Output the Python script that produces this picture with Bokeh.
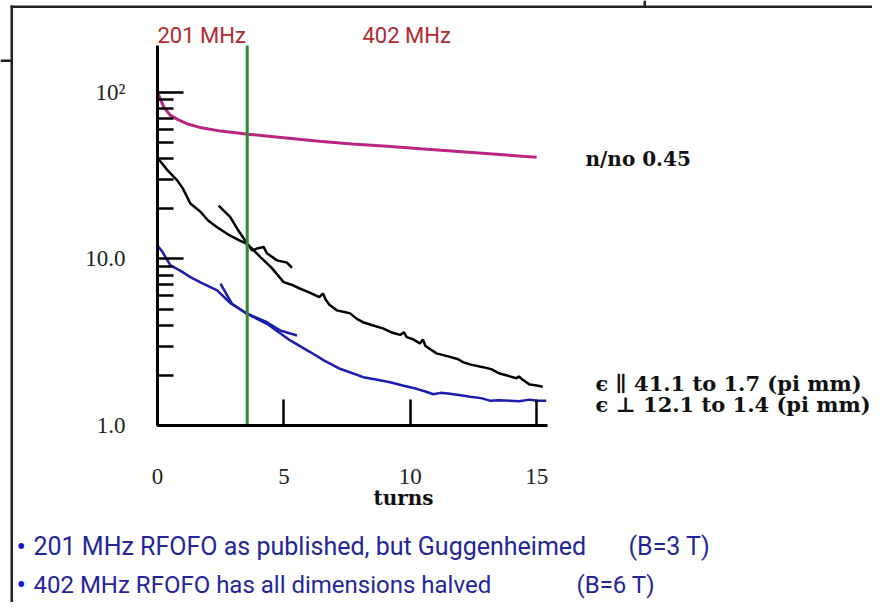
import math
from bokeh.plotting import figure
from bokeh.models import Range1d, FixedTicker, Label, BoxAnnotation
from bokeh.embed import file_html
from bokeh.resources import INLINE

# ---- data ----
x_ticks = [0, 5, 10, 15]
y_ticks = [1, 10, 100]
y_tick_labels = {1: "1.0", 10: "10.0", 100: "10\u00b2"}

# n/n0 transmission (magenta)
trans_t = [0, 0.26, 0.5, 0.79, 1.2, 1.74, 2.5, 3.59, 5.0, 6.4, 7.7, 9.08, 10.4, 11.76, 13.4, 15.0]
trans_v = [100, 81, 73, 68.8, 64.5, 61.2, 58.5, 56, 53.3, 50.8, 49, 47.4, 45.8, 44.3, 42.5, 40.7]

# longitudinal emittance, long run (black)
epar_t = [0, 0.4, 0.78, 1.0, 1.3, 1.7, 2.0, 2.36, 2.8, 3.2, 3.54, 3.8, 4.07, 4.5, 4.99,
          5.3, 5.65, 6.0, 6.4, 6.55, 6.65, 6.8, 7.09, 7.4, 7.62, 7.9, 8.13, 8.5, 8.92, 9.3,
          9.6, 9.75, 9.86, 10.1, 10.38, 10.5, 10.6, 11.04, 11.5, 11.9, 12.08, 12.4, 12.88,
          13.2, 13.54, 13.9, 14.2, 14.3, 14.45, 14.73, 15.0, 15.24]
epar_v = [40.5, 34, 29.6, 26.5, 21.5, 19.2, 17.0, 15.5, 14.0, 13.0, 12.3, 11.3, 10.25, 8.9, 7.26,
          7.0, 6.62, 6.3, 5.9, 6.2, 5.7, 5.3, 4.91, 4.8, 4.71, 4.35, 4.17, 4.0, 3.83, 3.6,
          3.5, 3.62, 3.39, 3.3, 3.11, 3.28, 3.0, 2.71, 2.6, 2.5, 2.40, 2.32, 2.24,
          2.18, 2.05, 1.98, 1.92, 1.97, 1.88, 1.76, 1.74, 1.71]

# longitudinal emittance, short run (black)
epar2_t = [2.42, 2.88, 3.2, 3.54, 3.74, 3.99, 4.2, 4.33, 4.73, 5.12, 5.32]
epar2_v = [20.9, 17.8, 14.8, 12.4, 11.25, 11.6, 11.8, 10.8, 9.8, 9.5, 8.85]

# transverse emittance (blue)
eperp_t = [0, 0.2, 0.51, 0.9, 1.3, 1.8, 2.36, 2.9, 3.54, 4.33, 5.25, 6.04, 6.6, 7.22, 8.14,
           8.7, 9.2, 9.7, 10.25, 10.6, 10.91, 11.2, 11.57, 12.0, 12.36, 12.8, 13.15, 13.5,
           13.94, 14.3, 14.73, 15.0, 15.38]
eperp_v = [12.05, 11.0, 9.14, 8.5, 7.78, 7.1, 6.47, 5.4, 4.69, 4.08, 3.24, 2.76, 2.45, 2.19, 1.95,
           1.88, 1.82, 1.74, 1.66, 1.6, 1.54, 1.57, 1.55, 1.52, 1.49, 1.46, 1.41, 1.42,
           1.41, 1.40, 1.43, 1.41, 1.41]

# transverse emittance, short run (blue)
eperp2_t = [2.49, 2.95, 3.54, 4.33, 4.86, 5.52]
eperp2_v = [7.1, 5.38, 4.69, 4.17, 3.72, 3.47]

# frequency change marker
switch_turn = 3.55

# ---- geometry: the frame is the whole canvas, axes are pinned inside it ----
W, H = 872, 602
AX_L, AX_R, AX_T, AX_B = 157, 547, 45, 425   # plot-area edges in pixels
XMAX, YMIN, YMAX = 15.43, 1.0, 191.0
PX_PER_TURN = (AX_R - AX_L) / XMAX
PX_PER_DEC = (AX_B - AX_T) / math.log10(YMAX / YMIN)

def dx(px):
    return (px - AX_L) / PX_PER_TURN

def dy(py):
    return YMIN * 10 ** ((AX_B - py) / PX_PER_DEC)

p = figure(width=W, height=H, x_range=Range1d(dx(0), dx(W)), y_range=Range1d(dy(H), dy(0)),
           y_axis_type="log", output_backend="svg", toolbar_location=None,
           min_border=0)
p.title.visible = False
p.outline_line_color = None
p.grid.visible = False
p.background_fill_color = "white"
p.border_fill_color = "white"

xa = p.xaxis[0]
xa.ticker = FixedTicker(ticks=x_ticks)
xa.fixed_location = YMIN
xa.bounds = (0, XMAX)
ya = p.yaxis[0]
ya.ticker = FixedTicker(ticks=y_ticks,
                        minor_ticks=[m * d for d in (1, 10) for m in range(2, 10)])
ya.major_label_overrides = y_tick_labels
ya.fixed_location = 0
ya.bounds = (YMIN, YMAX)

for ax in (xa, ya):
    ax.axis_line_color = "black"
    ax.axis_line_width = 3
    ax.major_tick_in = 26
    ax.major_tick_out = 0
    ax.major_tick_line_width = 2.5
    ax.major_tick_line_color = "black"
    ax.major_label_text_font = "Liberation Serif"
    ax.major_label_text_font_size = "23px"
    ax.major_label_text_color = "#222222"
xa.minor_tick_line_color = None
xa.major_label_standoff = 43
ya.minor_tick_in = 16
ya.minor_tick_out = 0
ya.minor_tick_line_width = 2.5
ya.minor_tick_line_color = "black"
ya.major_label_standoff = 32

p.line(trans_t, trans_v, line_color="#bb2480", line_width=3)
p.line(epar_t, epar_v, line_color="black", line_width=2.5)
p.line(epar2_t, epar2_v, line_color="black", line_width=2.5)
p.line(eperp_t, eperp_v, line_color="#1c1cb0", line_width=2.5)
p.line(eperp2_t, eperp2_v, line_color="#1c1cb0", line_width=2.5)

p.segment(x0=[switch_turn], y0=[YMIN], x1=[switch_turn], y1=[YMAX],
          line_color="#2e8b2e", line_width=3)

# ---- slide frame lines ----
frame_col = "#222222"
for l, r, t, b in [(10, 12.5, 5, H), (10, W, 5, 7.5), (0, 11, 59, 61.5), (643, 645.5, 0, 6)]:
    p.add_layout(BoxAnnotation(left=dx(l), right=dx(r), top=dy(t), bottom=dy(b),
                               fill_color=frame_col, fill_alpha=1, line_color=None))

def lab(x, y, text, font, size, color, style="normal", align="left"):
    p.add_layout(Label(x=dx(x), y=dy(y), text=text,
                       text_font=font, text_font_size=size, text_color=color,
                       text_font_style=style, text_align=align, text_baseline="middle"))

lab(157, 35, "201 MHz", "Roboto", "22px", "#b22a30")
lab(362, 35, "402 MHz", "Roboto", "22px", "#b22a30")
lab(585, 158, "n/no 0.45", "DejaVu Serif", "20px", "#111111", "bold")
lab(595, 383, "\u03f5 \u2225 41.1 to 1.7 (pi mm)", "DejaVu Serif", "21px", "#111111", "bold")
lab(595, 404, "\u03f5 \u22a5 12.1 to 1.4 (pi mm)", "DejaVu Serif", "21px", "#111111", "bold")
lab(403, 497, "turns", "DejaVu Serif", "20px", "#111111", "bold", "center")

lab(16, 546, "\u2022", "Roboto", "28px", "#1414d8")
lab(16, 584, "\u2022", "Roboto", "28px", "#1414d8")
lab(33, 546, "201 MHz RFOFO as published, but Guggenheimed", "Roboto", "25px", "#25259a")
lab(628, 546, "(B=3 T)", "Roboto", "25px", "#25259a")
lab(33, 584, "402 MHz RFOFO has all dimensions halved", "Roboto", "24px", "#25259a")
lab(576, 584, "(B=6 T)", "Roboto", "24px", "#25259a")

open("out.html", "w").write(file_html(p, INLINE))
